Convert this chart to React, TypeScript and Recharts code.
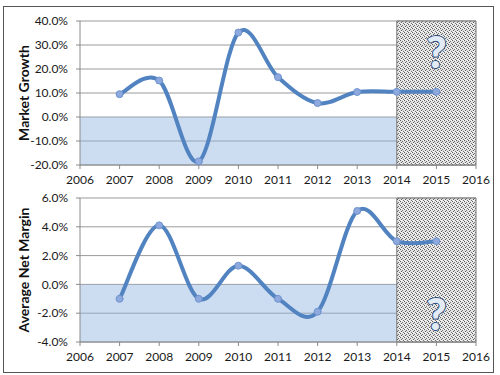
import { ComposedChart, Line, XAxis, YAxis, CartesianGrid, ReferenceArea } from 'recharts';

const years = [2007, 2008, 2009, 2010, 2011, 2012, 2013, 2014, 2015];
const marketGrowth = [9.5, 15.2, -18.5, 35.2, 16.6, 5.8, 10.4, 10.5, 10.5];
const netMargin = [-1.0, 4.1, -1.0, 1.3, -1.0, -1.9, 5.1, 3.0, 3.0];
const xTicks = [2006, 2007, 2008, 2009, 2010, 2011, 2012, 2013, 2014, 2015, 2016];
const growthTicks = [-20, -10, 0, 10, 20, 30, 40];
const marginTicks = [-4, -2, 0, 2, 4, 6];

const FONT = 'Lato, "Open Sans", sans-serif';

// Excel-style smoothed line (Catmull-Rom through every point)
function excelCurve(context: any) {
  let pts: number[][] = [];
  return {
    areaStart() {},
    areaEnd() {},
    lineStart() { pts = []; },
    point(x: number, y: number) { pts.push([+x, +y]); },
    lineEnd() {
      const n = pts.length;
      if (!n) return;
      context.moveTo(pts[0][0], pts[0][1]);
      const t = 1 / 6;
      for (let i = 0; i < n - 1; i++) {
        const p0 = pts[i - 1] || pts[i];
        const p1 = pts[i];
        const p2 = pts[i + 1];
        const p3 = pts[i + 2] || p2;
        context.bezierCurveTo(
          p1[0] + (p2[0] - p0[0]) * t, p1[1] + (p2[1] - p0[1]) * t,
          p2[0] - (p3[0] - p1[0]) * t, p2[1] - (p3[1] - p1[1]) * t,
          p2[0], p2[1]
        );
      }
    },
  };
}

interface PanelProps {
  id: string;
  values: number[];
  ticks: number[];
  label: string;
  top: number;
  questionAtTop: boolean;
}

function Panel({ id, values, ticks, label, top, questionAtTop }: PanelProps) {
  const data = years.map((year, i) => ({ year, value: values[i] }));
  const lo = ticks[0];
  const hi = ticks[ticks.length - 1];

  return (
    <div style={{ position: 'absolute', left: 0, top, width: 500, height: 188 }}>
      <ComposedChart width={500} height={188} data={data} margin={{ top: 21, right: 24, bottom: 3, left: 20 }}>
        <defs>
          <pattern id={id} width="4" height="4" patternUnits="userSpaceOnUse">
            <rect x="0" y="0" width="4" height="4" fill="#dedede" />
            <rect x="0" y="0" width="1" height="1" fill="#404040" />
            <rect x="2" y="1" width="1" height="1" fill="#5a5a5a" />
            <rect x="1" y="2" width="1" height="1" fill="#404040" />
            <rect x="3" y="3" width="1" height="1" fill="#5a5a5a" />
            <rect x="3" y="0" width="1" height="1" fill="#fff" />
            <rect x="1" y="3" width="1" height="1" fill="#fff" />
          </pattern>
        </defs>
        <ReferenceArea x1={2006} x2={2014} y1={lo} y2={0} fill="#8fb4e3" fillOpacity={0.45} stroke="none" />
        <ReferenceArea
          x1={2014}
          x2={2016}
          y1={lo}
          y2={hi}
          fill={`url(#${id})`}
          fillOpacity={0.85}
          stroke="#777"
          strokeWidth={1}
          label={(p: any) => {
            const vb = p.viewBox;
            const cx = vb.x + vb.width / 2;
            const y = questionAtTop ? vb.y + 47 : vb.y + vb.height - 12;
            return (
              <text x={cx} y={y} textAnchor="middle" fontFamily={FONT} fontWeight={900} fontSize={44}
                fill="#e2ebf6" stroke="#2b4a78" strokeWidth={1.8} paintOrder="stroke">?</text>
            );
          }}
        />
        <CartesianGrid vertical={false} stroke="#9a9a9a" />
        <XAxis
          type="number"
          dataKey="year"
          domain={[2006, 2016]}
          ticks={xTicks}
          interval={0}
          height={20}
          tickSize={4}
          tickMargin={6}
          stroke="#8a8a8a"
          tick={{ fill: '#1a1a1a', fontSize: 12, fontFamily: FONT }}
        />
        <YAxis
          type="number"
          domain={[lo, hi]}
          ticks={ticks}
          interval={0}
          width={60}
          tickSize={4}
          tickMargin={8}
          stroke="#8a8a8a"
          tickFormatter={(v: number) => `${v.toFixed(1)}%`}
          tick={{ fill: '#1a1a1a', fontSize: 12, fontFamily: FONT }}
          label={(p: any) => {
            const vb = p.viewBox;
            const x = vb.x + 3;
            const y = 21 + 72;
            return (
              <text x={x} y={y} transform={`rotate(-90, ${x}, ${y})`} textAnchor="middle" dominantBaseline="central"
                fontFamily={FONT} fontWeight={700} fontSize={14} fill="#111">{label}</text>
            );
          }}
        />
        <Line
          type={excelCurve as any}
          dataKey="value"
          stroke="#5283c1"
          strokeWidth={4}
          strokeLinecap="round"
          dot={{ r: 3.5, fill: '#8da9dd', stroke: '#6f93cf', strokeWidth: 1 }}
          activeDot={false}
          isAnimationActive={false}
        />
      </ComposedChart>
    </div>
  );
}

export default function App() {
  return (
    <div style={{ position: 'absolute', left: 0, top: 0, width: 500, height: 375, background: '#fff', overflow: 'hidden' }}>
      <Panel id="hatchTop" values={marketGrowth} ticks={growthTicks} label="Market Growth" top={0} questionAtTop={true} />
      <Panel id="hatchBottom" values={netMargin} ticks={marginTicks} label="Average Net Margin" top={177} questionAtTop={false} />
      <div style={{ position: 'absolute', left: 3, top: 6, width: 491, height: 367, boxSizing: 'border-box', border: '1.5px solid #555', pointerEvents: 'none' }} />
    </div>
  );
}
